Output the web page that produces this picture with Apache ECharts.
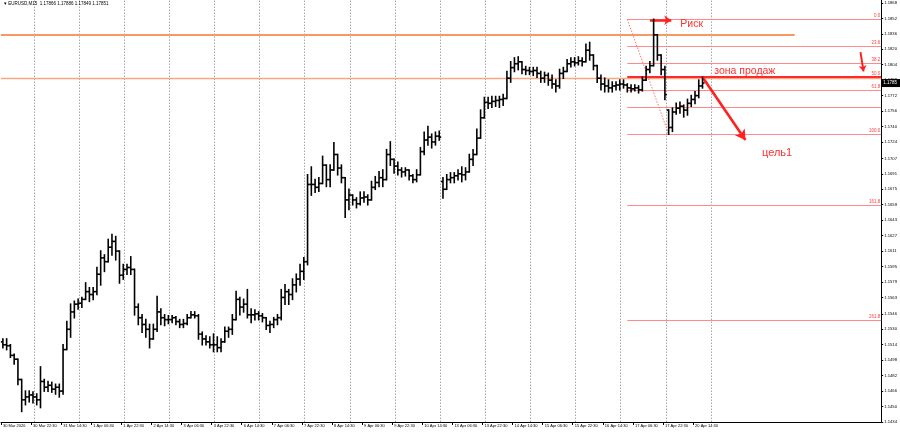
<!DOCTYPE html>
<html><head><meta charset="utf-8">
<script src="https://cdn.jsdelivr.net/npm/echarts@6/dist/echarts.min.js"></script>
<style>html,body{margin:0;padding:0;background:#fff}#c{width:900px;height:434px}</style>
</head><body><div id="c"></div>
<script>
// ---- data (2-hour OHLC bars) ----
const timeLabels = ["30 Mar 2026","30 Mar 22:30","31 Mar 14:30","1 Apr 06:30","1 Apr 22:30","2 Apr 14:30","3 Apr 06:30","3 Apr 22:30","6 Apr 14:30","7 Apr 06:30","7 Apr 22:30","8 Apr 14:30","9 Apr 06:30","9 Apr 22:30","10 Apr 14:30","13 Apr 06:30","13 Apr 22:30","14 Apr 14:30","15 Apr 06:30","15 Apr 22:30","16 Apr 14:30","17 Apr 06:30","17 Apr 22:30","20 Apr 14:30"];
const yTickLabels = ["1.1868","1.1852","1.1836","1.1820","1.1804","1.1788","1.1772","1.1756","1.1740","1.1724","1.1707","1.1691","1.1675","1.1659","1.1643","1.1627","1.1611","1.1595","1.1579","1.1563","1.1546","1.1530","1.1514","1.1498","1.1482","1.1466","1.1450","1.1434"];
const opens = [
1.1517,1.1514,1.1513,1.1503,1.1499,1.1478,1.1457,1.1460,1.1462,1.1460,
1.1457,1.1476,1.1470,1.1472,1.1468,1.1470,1.1466,1.1509,1.1530,1.1548,
1.1556,1.1557,1.1561,1.1569,1.1566,1.1569,1.1587,1.1604,1.1600,1.1615,
1.1621,1.1611,1.1586,1.1592,1.1594,1.1592,1.1553,1.1542,1.1535,1.1530,
1.1520,1.1530,1.1548,1.1542,1.1540,1.1540,1.1542,1.1538,1.1535,1.1536,
1.1542,1.1545,1.1544,1.1525,1.1520,1.1517,1.1514,1.1514,1.1511,1.1517,
1.1528,1.1530,1.1540,1.1561,1.1553,1.1556,1.1545,1.1545,1.1546,1.1544,
1.1542,1.1534,1.1535,1.1540,1.1542,1.1563,1.1569,1.1566,1.1576,1.1582,
1.1590,1.1600,1.1680,1.1680,1.1677,1.1681,1.1700,1.1685,1.1695,1.1711,
1.1697,1.1687,1.1664,1.1669,1.1664,1.1660,1.1666,1.1667,1.1664,1.1677,
1.1682,1.1687,1.1685,1.1711,1.1706,1.1699,1.1695,1.1693,1.1695,1.1689,
1.1685,1.1690,1.1714,1.1726,1.1729,1.1724,1.1730,1.1683,1.1675,1.1685,
1.1687,1.1689,1.1691,1.1690,1.1693,1.1706,1.1711,1.1728,1.1749,1.1765,
1.1764,1.1766,1.1767,1.1768,1.1769,1.1790,1.1801,1.1805,1.1807,1.1799,
1.1798,1.1797,1.1798,1.1795,1.1790,1.1793,1.1788,1.1784,1.1782,1.1795,
1.1797,1.1805,1.1807,1.1806,1.1808,1.1807,1.1819,1.1814,1.1803,1.1790,
1.1784,1.1782,1.1780,1.1782,1.1783,1.1784,1.1783,1.1780,1.1779,1.1780,
1.1778,1.1788,1.1799,1.1803,1.1835,1.1814,1.1799,1.1757,1.1739,1.1755,
1.1759,1.1761,1.1757,1.1764,1.1768,1.1772,1.1782];
const highs = [
1.1520,1.1520,1.1514,1.1504,1.1499,1.1478,1.1466,1.1466,1.1465,1.1463,
1.1491,1.1478,1.1476,1.1475,1.1473,1.1473,1.1514,1.1538,1.1556,1.1559,
1.1561,1.1563,1.1578,1.1573,1.1573,1.1594,1.1611,1.1607,1.1623,1.1628,
1.1626,1.1611,1.1597,1.1597,1.1605,1.1592,1.1556,1.1545,1.1540,1.1535,
1.1535,1.1564,1.1551,1.1545,1.1544,1.1544,1.1543,1.1540,1.1540,1.1545,
1.1548,1.1548,1.1545,1.1527,1.1523,1.1522,1.1525,1.1522,1.1520,1.1532,
1.1532,1.1545,1.1569,1.1563,1.1561,1.1571,1.1551,1.1550,1.1548,1.1546,
1.1542,1.1538,1.1542,1.1545,1.1571,1.1576,1.1571,1.1582,1.1587,1.1597,
1.1604,1.1690,1.1698,1.1685,1.1687,1.1709,1.1700,1.1700,1.1723,1.1711,
1.1700,1.1687,1.1675,1.1669,1.1666,1.1672,1.1672,1.1669,1.1683,1.1688,
1.1693,1.1695,1.1716,1.1724,1.1706,1.1703,1.1697,1.1697,1.1695,1.1690,
1.1695,1.1718,1.1734,1.1740,1.1732,1.1734,1.1735,1.1687,1.1690,1.1692,
1.1692,1.1695,1.1698,1.1697,1.1711,1.1716,1.1737,1.1757,1.1770,1.1770,
1.1771,1.1771,1.1771,1.1773,1.1797,1.1807,1.1811,1.1812,1.1807,1.1802,
1.1801,1.1801,1.1801,1.1797,1.1796,1.1795,1.1793,1.1788,1.1799,1.1801,
1.1809,1.1811,1.1811,1.1812,1.1811,1.1825,1.1827,1.1814,1.1803,1.1793,
1.1790,1.1788,1.1786,1.1786,1.1788,1.1788,1.1784,1.1783,1.1783,1.1782,
1.1791,1.1802,1.1807,1.1851,1.1835,1.1814,1.1802,1.1757,1.1759,1.1764,
1.1765,1.1762,1.1768,1.1772,1.1776,1.1788,1.1791];
const lows = [
1.1511,1.1509,1.1501,1.1494,1.1473,1.1445,1.1452,1.1455,1.1454,1.1452,
1.1449,1.1466,1.1466,1.1465,1.1463,1.1460,1.1463,1.1509,1.1522,1.1542,
1.1551,1.1553,1.1561,1.1559,1.1561,1.1566,1.1576,1.1590,1.1600,1.1607,
1.1602,1.1578,1.1582,1.1587,1.1587,1.1545,1.1535,1.1527,1.1522,1.1511,
1.1520,1.1528,1.1535,1.1534,1.1536,1.1537,1.1535,1.1532,1.1532,1.1535,
1.1542,1.1542,1.1520,1.1514,1.1514,1.1511,1.1507,1.1507,1.1507,1.1517,
1.1522,1.1525,1.1540,1.1545,1.1548,1.1542,1.1537,1.1540,1.1540,1.1538,
1.1530,1.1527,1.1532,1.1535,1.1540,1.1556,1.1556,1.1561,1.1569,1.1576,
1.1582,1.1597,1.1669,1.1672,1.1673,1.1681,1.1678,1.1678,1.1695,1.1690,
1.1682,1.1646,1.1654,1.1659,1.1656,1.1659,1.1662,1.1659,1.1664,1.1675,
1.1678,1.1678,1.1685,1.1700,1.1692,1.1690,1.1688,1.1689,1.1685,1.1682,
1.1683,1.1690,1.1711,1.1721,1.1718,1.1721,1.1726,1.1666,1.1675,1.1682,
1.1682,1.1685,1.1683,1.1685,1.1693,1.1700,1.1711,1.1728,1.1749,1.1759,
1.1760,1.1761,1.1760,1.1762,1.1769,1.1786,1.1797,1.1799,1.1795,1.1794,
1.1794,1.1793,1.1791,1.1786,1.1786,1.1783,1.1780,1.1776,1.1780,1.1790,
1.1797,1.1802,1.1803,1.1804,1.1803,1.1807,1.1809,1.1799,1.1786,1.1778,
1.1776,1.1776,1.1776,1.1778,1.1778,1.1780,1.1776,1.1776,1.1777,1.1775,
1.1777,1.1788,1.1796,1.1803,1.1809,1.1794,1.1768,1.1732,1.1735,1.1753,
1.1754,1.1750,1.1752,1.1761,1.1764,1.1770,1.1780];
const closes = [
1.1514,1.1513,1.1503,1.1499,1.1478,1.1457,1.1460,1.1462,1.1460,1.1457,
1.1476,1.1470,1.1472,1.1468,1.1470,1.1466,1.1509,1.1530,1.1548,1.1556,
1.1557,1.1561,1.1569,1.1566,1.1569,1.1587,1.1604,1.1600,1.1615,1.1621,
1.1611,1.1586,1.1592,1.1594,1.1592,1.1553,1.1542,1.1535,1.1530,1.1520,
1.1530,1.1548,1.1542,1.1540,1.1540,1.1542,1.1538,1.1535,1.1536,1.1542,
1.1545,1.1544,1.1525,1.1520,1.1517,1.1514,1.1514,1.1511,1.1517,1.1528,
1.1530,1.1540,1.1561,1.1553,1.1556,1.1545,1.1545,1.1546,1.1544,1.1542,
1.1534,1.1535,1.1540,1.1542,1.1563,1.1569,1.1566,1.1576,1.1582,1.1590,
1.1600,1.1680,1.1680,1.1677,1.1681,1.1700,1.1685,1.1695,1.1711,1.1697,
1.1687,1.1664,1.1669,1.1664,1.1660,1.1666,1.1667,1.1664,1.1677,1.1682,
1.1687,1.1685,1.1711,1.1706,1.1699,1.1695,1.1693,1.1695,1.1689,1.1685,
1.1690,1.1714,1.1726,1.1729,1.1724,1.1730,1.1729,1.1675,1.1685,1.1687,
1.1689,1.1691,1.1690,1.1693,1.1706,1.1711,1.1728,1.1749,1.1765,1.1764,
1.1766,1.1767,1.1768,1.1769,1.1790,1.1801,1.1805,1.1807,1.1799,1.1798,
1.1797,1.1798,1.1795,1.1790,1.1793,1.1788,1.1784,1.1782,1.1795,1.1797,
1.1805,1.1807,1.1806,1.1808,1.1807,1.1819,1.1814,1.1803,1.1790,1.1784,
1.1782,1.1780,1.1782,1.1783,1.1784,1.1783,1.1780,1.1779,1.1780,1.1778,
1.1788,1.1799,1.1803,1.1835,1.1814,1.1799,1.1773,1.1739,1.1755,1.1759,
1.1761,1.1757,1.1764,1.1768,1.1772,1.1782,1.1785];
const fibHigh = 1.1851, fibLow = 1.1732;
const fibRatios = [0, 23.6, 38.2, 50.0, 61.8, 76.4, 100.0, 161.8, 261.8];
const fibShown = ["0.0","23.6","38.2","50.0","61.8","","100.0","161.8","261.8"];
const resistanceLevel = 1.1835;
const sellZoneLevel = 1.1790;
const titleText = "EURUSD,M15  1.17866 1.17886 1.17849 1.17851";

// ---- layout ----
const X_MAX = 234;            // visible bar slots incl. right shift
const LABEL_STEP = 8;         // one time label every 8 bars (16 h)
const dayLines = [];
for (let k = 0; k < 16; k++) dayLines.push(8.75 + 12 * k);
const fibStart = 166.5, fibEnd = 177.5;

const bars = opens.map((o, i) => [i + 0.5, o, highs[i], lows[i], closes[i]]);
const RED = '#ff2020';

const chart = echarts.init(document.getElementById('c'), null, {renderer: 'canvas'});
const fibLineData = fibRatios.map((r, k) => {
  const lv = fibHigh - (fibHigh - fibLow) * r / 100;
  const main = r === 50.0;
  return [
    {coord: [fibStart, lv],
     lineStyle: {color: main ? '#ff2a2a' : '#ff8a8a', width: main ? 1.8 : 1},
     label: {show: fibShown[k] !== '', formatter: fibShown[k], position: 'insideEndTop',
             color: '#ff4040', fontSize: 4.5, distance: 1, fontFamily: 'Liberation Sans'}},
    {coord: [X_MAX, lv]}
  ];
});

const titleGraphic = {type: 'text', left: 4, top: 1, z: 50,
  style: {text: '\u25BE ' + titleText, fontSize: 4.5, fill: '#000', fontFamily: 'Liberation Sans'}};

chart.setOption({
  animation: false,
  backgroundColor: '#fff',
  grid: {left: 0, right: 15, top: 0, bottom: 12},
  xAxis: {
    type: 'value', min: 0, max: X_MAX,
    axisLine: {show: true, lineStyle: {color: '#000', width: 1}},
    axisTick: {show: true, length: 3, lineStyle: {color: '#000'},
               customValues: timeLabels.map((t, k) => k * LABEL_STEP)},
    axisLabel: {show: true, customValues: timeLabels.map((t, k) => k * LABEL_STEP),
                formatter: v => timeLabels[Math.round(v / LABEL_STEP)] || '',
                align: 'left', margin: 2, fontSize: 4, color: '#000',
                fontFamily: 'Liberation Sans', padding: [0, 0, 0, 2]},
    splitLine: {show: false}
  },
  yAxis: {
    type: 'value', position: 'right', min: 1.1434, max: 1.1871, scale: true,
    axisLine: {show: true, onZero: false, lineStyle: {color: '#000', width: 1}},
    axisTick: {show: true, length: 2, lineStyle: {color: '#000'},
               customValues: yTickLabels.map(Number)},
    axisLabel: {show: true, customValues: yTickLabels.map(Number),
                formatter: v => v.toFixed(4), margin: 3, fontSize: 4.2,
                color: '#000', fontFamily: 'Liberation Sans'},
    splitLine: {show: false}
  },
  graphic: [titleGraphic],
  series: [
    { // day grid
      type: 'line', data: [], z: 1, silent: true,
      markLine: {silent: true, symbol: 'none', animation: false,
        label: {show: false},
        lineStyle: {color: '#a8a8a8', type: [1.5, 1.5], width: 1},
        data: dayLines.map(v => ({xAxis: v}))}
    },
    { // horizontal orange levels
      type: 'line', data: [], z: 2, silent: true,
      markLine: {silent: true, symbol: 'none', animation: false, label: {show: false},
        data: [
          [{coord: [0, resistanceLevel], lineStyle: {color: '#f79a62', width: 2, type: 'solid'}}, {coord: [211, resistanceLevel]}],
          [{coord: [0, sellZoneLevel], lineStyle: {color: '#f6a882', width: 1.3, type: 'solid'}}, {coord: [X_MAX, sellZoneLevel]}]
        ]}
    },
    { // fibonacci
      type: 'line', data: [], z: 3, silent: true,
      markLine: {silent: true, symbol: 'none', animation: false,
        lineStyle: {type: 'solid'},
        data: fibLineData.concat([[
          {coord: [fibStart, fibHigh], lineStyle: {color: '#ff7070', width: 1, type: [1.5, 1.5]}, label: {show: false}},
          {coord: [fibEnd, fibLow]}]])}
    },
    { // OHLC bars
      type: 'custom', z: 5, data: bars,
      encode: {x: 0, y: [1, 2, 3, 4]},
      renderItem: function (params, api) {
        const x = api.value(0);
        const o = api.coord([x, api.value(1)]);
        const h = api.coord([x, api.value(2)]);
        const l = api.coord([x, api.value(3)]);
        const c = api.coord([x, api.value(4)]);
        const st = {stroke: '#000', lineWidth: 1.6};
        return {type: 'group', children: [
          {type: 'line', shape: {x1: h[0], y1: h[1] - 0.8, x2: l[0], y2: l[1] + 0.8}, style: st},
          {type: 'line', shape: {x1: o[0] - 2, y1: o[1], x2: o[0], y2: o[1]}, style: st},
          {type: 'line', shape: {x1: c[0], y1: c[1], x2: c[0] + 2, y2: c[1]}, style: st}
        ]};
      }
    },
    { // arrows and notes
      type: 'line', data: [], z: 8, silent: true,
      markLine: {silent: true, animation: false, label: {show: false},
        data: [
          [{coord: [172.5, 1.1850], symbol: 'none', lineStyle: {color: RED, width: 2.5, type: 'solid'}},
           {coord: [178.2, 1.1850], symbol: 'arrow', symbolSize: [7, 7]}],
          [{coord: [186.7, sellZoneLevel], symbol: 'none', lineStyle: {color: RED, width: 2.6, type: 'solid'}},
           {coord: [197.9, 1.1726], symbol: 'arrow', symbolSize: [9, 10]}],
          [{coord: [228.5, 1.1817], symbol: 'none', lineStyle: {color: RED, width: 2, type: 'solid'}},
           {coord: [229.3, 1.1797], symbol: 'arrow', symbolSize: [6, 6]}]
        ]},
      markPoint: {silent: true, animation: false, symbol: 'circle', symbolSize: 0,
        label: {show: true, position: 'right', distance: 0, color: '#ff3030',
                fontSize: 10.5, fontFamily: 'Liberation Sans', formatter: p => p.name},
        data: [
          {name: 'Риск', coord: [180.6, 1.1846]},
          {name: 'зона продаж', coord: [189.6, 1.1797]},
          {name: 'цель1', coord: [202.3, 1.17125], label: {fontSize: 11}}
        ]}
    }
  ]
});

// current price box on the price scale
const lastClose = closes[closes.length - 1];
const py = chart.convertToPixel({yAxisIndex: 0}, lastClose);
const px = chart.convertToPixel({xAxisIndex: 0}, X_MAX);
chart.setOption({graphic: [
  titleGraphic,
  {type: 'rect', z: 60, shape: {x: px, y: py - 4, width: 900 - px, height: 8}, style: {fill: '#000'}},
  {type: 'text', z: 61, x: px + 2, y: py, style: {text: lastClose.toFixed(4), fill: '#fff', fontSize: 4.5,
   fontFamily: 'Liberation Sans', verticalAlign: 'middle'}}
]});
</script>
</body></html>
